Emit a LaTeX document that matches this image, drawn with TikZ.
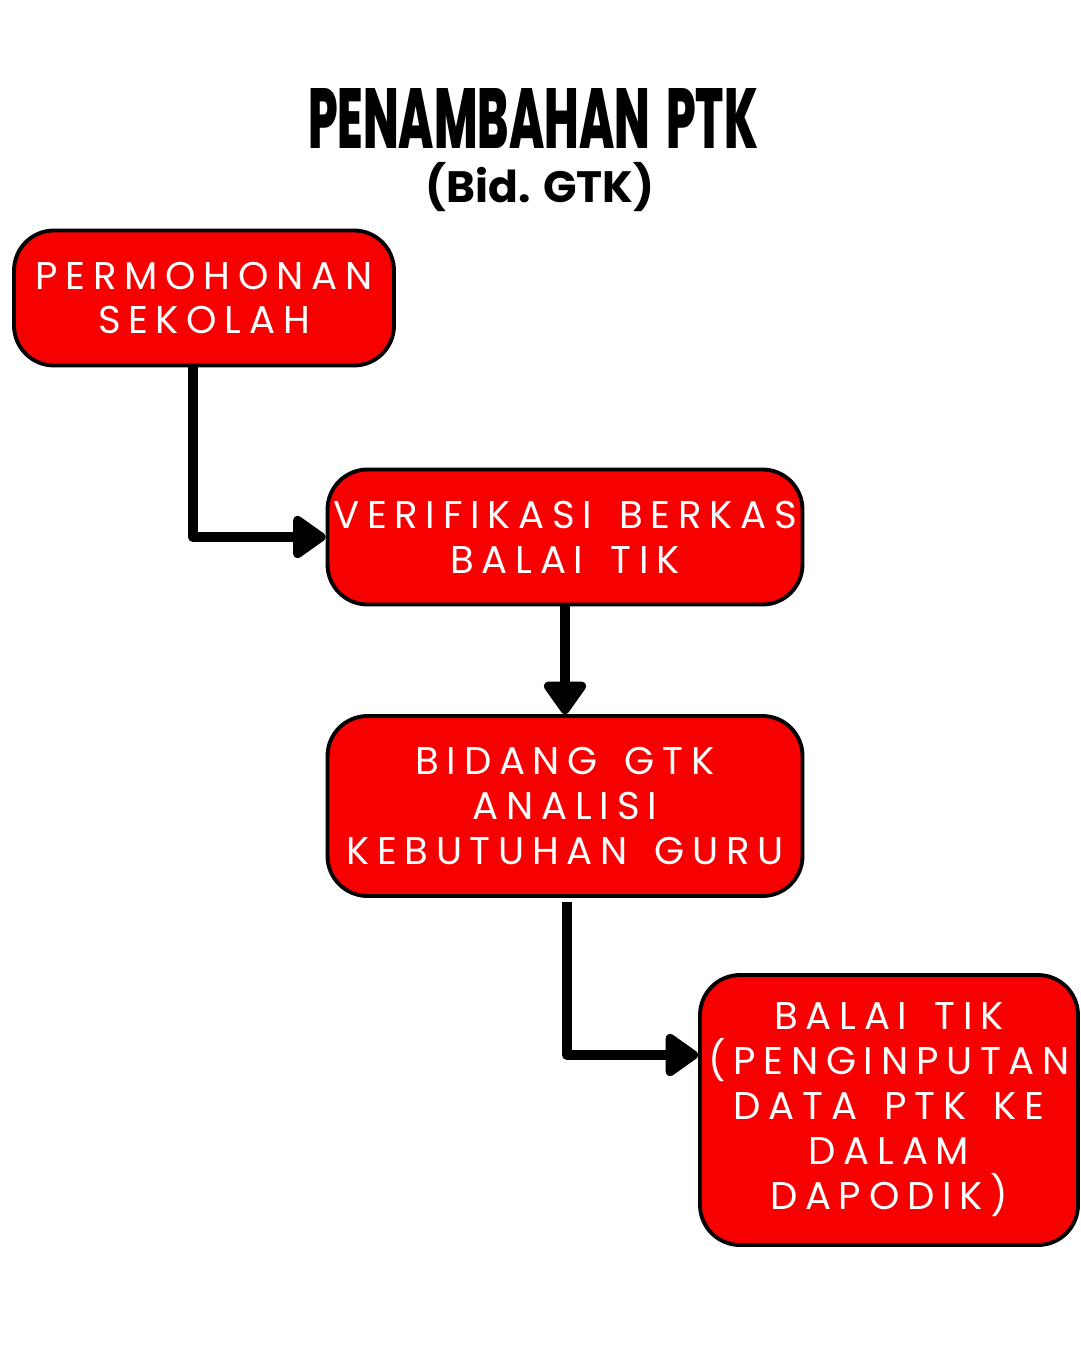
\documentclass[tikz,border=0pt]{standalone}
\usepackage{fontspec}
\usepackage{graphicx}
\usetikzlibrary{arrows.meta}
\setmainfont{Poppins}
\newfontfamily\boxfont[LetterSpace=20,WordSpace=1.5]{Poppins}
\newfontfamily\judulfont{Poppins ExtraBold}
\definecolor{ffqqqq}{rgb}{0.97,0,0}

\begin{document}
\begin{tikzpicture}[line cap=round,line join=round,x=0.1mm,y=-0.1mm,
	kotak/.style={draw=black,line width=1.1pt,fill=ffqqqq,rounded corners=4mm,
		inner sep=0pt,align=center,text=white,
		font=\boxfont\fontsize{11}{12.8}\selectfont},
	panah/.style={line width=3pt,line cap=butt,-{Triangle[length=3.6mm,width=4.8mm,round]}}]
	\useasboundingbox (0,0) rectangle (1080,1350);
	% judul
	\node[inner sep=0pt] (judul) at (533,118) {\resizebox{45mm}{6mm}{\judulfont PENAMBAHAN\hspace{0.35em}PTK}};
	\node[inner sep=0pt,font=\bfseries\fontsize{12.5}{14}\selectfont] (subjudul) at (540,187) {(Bid. GTK)};
	% kotak alur
	\node[kotak,minimum width=38mm,minimum height=13.5mm] (permohonan) at (204,298) {PERMOHONAN\\SEKOLAH};
	\node[kotak,minimum width=47.5mm,minimum height=13.5mm] (verifikasi) at (565,537) {VERIFIKASI BERKAS\\BALAI TIK};
	\node[kotak,minimum width=47.5mm,minimum height=18mm] (bidang) at (565,806) {BIDANG GTK\\ANALISI\\KEBUTUHAN GURU};
	\node[kotak,minimum width=37.8mm,minimum height=27mm] (balai) at (889,1110) {BALAI TIK\\(PENGINPUTAN\\DATA PTK KE\\DALAM\\DAPODIK)};
	% panah
	\coordinate (masuk) at ([yshift=5.5mm]balai.west);
	\draw[panah] ([xshift=-1.1mm]permohonan.south) |- (verifikasi.west);
	\draw[panah] (verifikasi.south) -- (bidang.north);
	\draw[panah] ([xshift=0.2mm,yshift=-0.4mm]bidang.south) |- (masuk);
\end{tikzpicture}
\end{document}
